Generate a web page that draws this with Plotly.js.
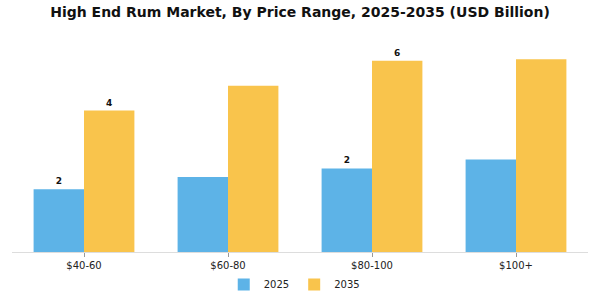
<!DOCTYPE html>
<html>
<head>
<meta charset="utf-8">
<script src="https://cdn.plot.ly/plotly-3.0.1.min.js"></script>
<style>html,body{margin:0;padding:0;background:#fff;}#chart{width:600px;height:300px;}</style>
</head>
<body>
<div id="chart"></div>
<script>
const categories = ["$40-60", "$60-80", "$80-100", "$100+"];
const values2025 = [1.98, 2.37, 2.64, 2.92];
const values2035 = [4.47, 5.25, 6.04, 6.09];
const labels2025 = ["2", "", "2", ""];
const labels2035 = ["4", "", "6", ""];

const maxVal = Math.max(...values2025, ...values2035);

const traces = [
  {
    type: "bar", name: "2025", x: categories, y: values2025,
    text: labels2025, textposition: "outside", cliponaxis: false,
    textfont: {family: "DejaVu Sans", size: 9, color: "#111", weight: "bold"},
    marker: {color: "#5DB3E7"}, hoverinfo: "skip"
  },
  {
    type: "bar", name: "2035", x: categories, y: values2035,
    text: labels2035, textposition: "outside", cliponaxis: false,
    textfont: {family: "DejaVu Sans", size: 9, color: "#111", weight: "bold"},
    marker: {color: "#F9C44C"}, hoverinfo: "skip"
  }
];

const layout = {
  width: 600, height: 300,
  margin: {l: 12, r: 12, t: 40, b: 48, autoexpand: false},
  paper_bgcolor: "#fff", plot_bgcolor: "#fff",
  barmode: "group", bargap: 0.3, bargroupgap: 0,
  title: {
    text: "<b>High End Rum Market, By Price Range, 2025-2035 (USD Billion)</b>",
    x: 0.5, xanchor: "center", y: 0.96, yanchor: "middle",
    font: {family: "DejaVu Sans", size: 14, color: "#111"}
  },
  xaxis: {
    showline: true, linecolor: "#dddddd", linewidth: 1,
    ticks: "outside", ticklen: 4, tickcolor: "#999",
    tickfont: {family: "DejaVu Sans", size: 10, color: "#222"},
    showgrid: false
  },
  yaxis: {
    range: [0, maxVal * 1.1], visible: false, showgrid: false, zeroline: false
  },
  legend: {
    orientation: "h", x: 0.49, xanchor: "center",
    yref: "container", y: 0.052, yanchor: "middle",
    font: {family: "DejaVu Sans", size: 10, color: "#222"},
    itemwidth: 30
  },
  showlegend: true
};

Plotly.newPlot("chart", traces, layout, {displayModeBar: false, staticPlot: true});
</script>
</body>
</html>
